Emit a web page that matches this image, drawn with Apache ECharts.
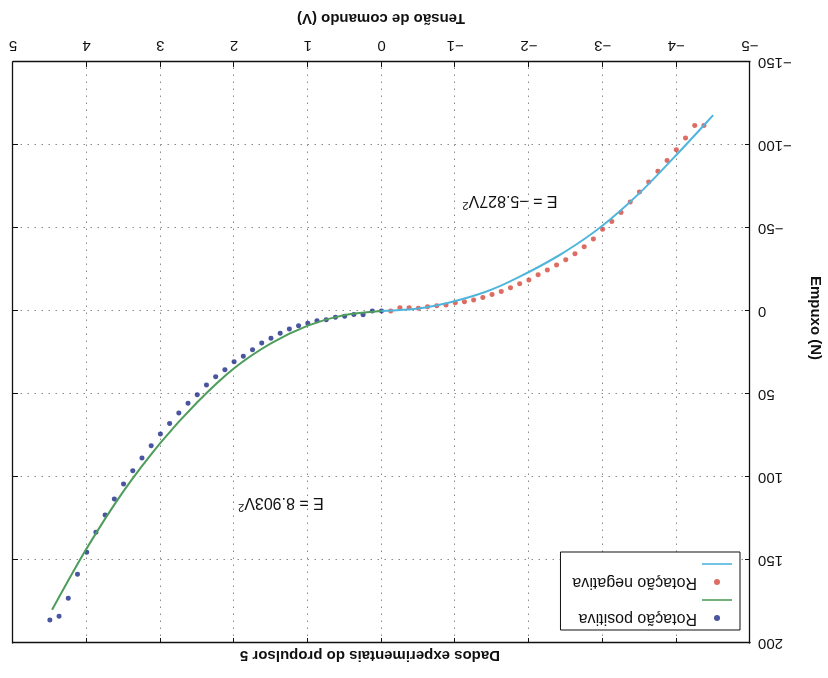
<!DOCTYPE html>
<html lang="pt">
<head>
<meta charset="utf-8">
<title>Dados experimentais do propulsor 5</title>
<script src="https://cdn.jsdelivr.net/npm/echarts@6/dist/echarts.min.js"></script>
<style>
  html, body { margin: 0; background: #fff; }
  /* o original está de cabeça para baixo */
  #main { width: 828px; height: 678px; transform: rotate(180deg); }
</style>
</head>
<body>
<div id="main"></div>
<script>
// rotação positiva (V, N)
const posV = [0, 0.125, 0.25, 0.375, 0.5, 0.625, 0.75, 0.875, 1, 1.125, 1.25, 1.375, 1.5, 1.625, 1.75, 1.875,
  2, 2.125, 2.25, 2.375, 2.5, 2.625, 2.75, 2.875, 3, 3.125, 3.25, 3.375, 3.5, 3.625, 3.75, 3.875,
  4, 4.125, 4.25, 4.375, 4.5];
const posE = [0, 0, 2.2, 2.1, 3.2, 3.8, 5.2, 5.8, 7.4, 8.9, 10.8, 13.4, 16.4, 19.3, 23.3, 27.3,
  30.5, 35.4, 39.6, 44.6, 50.4, 55.6, 61.4, 67.7, 74.1, 81.1, 88.6, 96.2, 104.2, 113.3, 122.9, 133.3,
  145.4, 158.6, 173.1, 183.9, 186.1];

// rotação negativa
const negV = [-0.125, -0.25, -0.375, -0.5, -0.625, -0.75, -0.875, -1, -1.125, -1.25, -1.375, -1.5, -1.625, -1.75,
  -1.875, -2, -2.125, -2.25, -2.375, -2.5, -2.625, -2.75, -2.875, -3, -3.125, -3.25, -3.375, -3.5,
  -3.625, -3.75, -3.875, -4, -4.125, -4.25, -4.375];
const negE = [0, -2.0, -2.0, -1.6, -2.6, -3.2, -3.6, -5.0, -5.6, -6.6, -8.2, -10.0, -11.8, -14.0,
  -16.4, -18.6, -21.8, -24.7, -27.7, -30.8, -34.5, -38.7, -43.3, -49.3, -53.9, -59.4, -65.7, -71.7,
  -77.7, -84.2, -90.6, -97.2, -104.2, -111.7, -111.7];

// curvas ajustadas
const posFitV = [0, 0.5, 1, 1.5, 2, 2.5, 3, 3.5, 4, 4.47];
const posFitE = [0, 2.4, 8.8, 19.5, 34.5, 55, 79.5, 108.5, 143, 180];
const negFitV = [0, -0.5, -1, -1.5, -2, -2.5, -3, -3.5, -4, -4.5];
const negFitE = [0, -1.5, -6, -13, -23.5, -36, -51.5, -71, -94, -118];

const font = '"Liberation Sans", Arial, Helvetica, sans-serif';
const ink = '#111';
const zip = (xs, ys) => xs.map((x, i) => [x, ys[i]]);
const minus = v => String(v).replace('-', '\u2212');
const lineIcon = 'path://M0 0H30V1.6H0Z';

const frame = { show: true, onZero: false, lineStyle: { color: ink, width: 1.3 } };
const ticks = { show: true, inside: true, length: 5, lineStyle: { color: ink, width: 1 } };
const dots = { show: true, lineStyle: { color: '#8a8a8a', width: 1, type: [1.5, 5.5] } };

const chart = echarts.init(document.getElementById('main'));

const option = {
    animation: false,
    backgroundColor: '#fff',
    textStyle: { fontFamily: font },
    grid: { left: 78, right: 13, top: 35, bottom: 62 },
    xAxis: [
        { type: 'value', min: -5, max: 5, interval: 1, position: 'bottom',
          axisLine: frame, axisTick: ticks, splitLine: dots,
          axisLabel: { color: ink, fontSize: 15, margin: 9, formatter: minus } },
        { type: 'value', min: -5, max: 5, interval: 1, position: 'top',
          axisLine: frame, axisTick: ticks, splitLine: { show: false }, axisLabel: { show: false } }
    ],
    yAxis: [
        { type: 'value', min: -150, max: 200, interval: 50, position: 'left',
          axisLine: frame, axisTick: ticks, splitLine: dots,
          axisLabel: { color: ink, fontSize: 15, margin: 8, formatter: minus } },
        { type: 'value', min: -150, max: 200, interval: 50, position: 'right',
          axisLine: frame, axisTick: ticks, splitLine: { show: false }, axisLabel: { show: false } }
    ],
    legend: {
        left: 88, top: 48, orient: 'vertical',
        itemWidth: 30, itemHeight: 6, itemGap: 2,
        padding: [4, 12, 4, 8],
        borderColor: ink, borderWidth: 1, backgroundColor: '#fff',
        textStyle: { fontSize: 16, color: ink },
        data: [
            { name: 'Rotação positiva', icon: 'circle' },
            { name: ' ', icon: lineIcon },
            { name: 'Rotação negativa', icon: 'circle' },
            { name: '  ', icon: lineIcon }
        ]
    },
    series: [
        { name: 'Rotação positiva', type: 'scatter', symbolSize: 5,
          itemStyle: { color: '#1b2a86' }, data: zip(posV, posE) },
        { name: ' ', type: 'line', smooth: 0.3, symbol: 'none',
          lineStyle: { color: '#4f9d5c', width: 2 }, itemStyle: { color: '#4f9d5c' },
          data: zip(posFitV, posFitE) },
        { name: 'Rotação negativa', type: 'scatter', symbolSize: 5,
          itemStyle: { color: '#d4473c' }, data: zip(negV, negE) },
        { name: '  ', type: 'line', smooth: 0.3, symbol: 'none',
          lineStyle: { color: '#4fb5dc', width: 2 }, itemStyle: { color: '#4fb5dc' },
          data: zip(negFitV, negFitE) }
    ],
    graphic: [
        { type: 'text', x: 458, y: 23,
          style: { text: 'Dados experimentais do propulsor 5', fontSize: 15, fontWeight: 'bold',
                   fontFamily: font, fill: ink, align: 'center', verticalAlign: 'middle' } },
        { type: 'text', x: 447, y: 660,
          style: { text: 'Tensão de comando (V)', fontSize: 15, fontWeight: 'bold',
                   fontFamily: font, fill: ink, align: 'center', verticalAlign: 'middle' } },
        { type: 'text', x: 13, y: 360, rotation: Math.PI / 2,
          style: { text: 'Empuxo (N)', fontSize: 15, fontWeight: 'bold',
                   fontFamily: font, fill: ink, align: 'center', verticalAlign: 'middle' } },
        { type: 'text', x: 547, y: 176,
          style: { text: '{m|E = 8.903V}{s|2}', fontFamily: font, fill: ink,
                   align: 'center', verticalAlign: 'middle',
                   rich: { m: { fontSize: 16, lineHeight: 22, fill: ink },
                           s: { fontSize: 11, lineHeight: 12, verticalAlign: 'top', fill: ink } } } },
        { type: 'text', x: 318, y: 478,
          style: { text: '{m|E = \u22125.827V}{s|2}', fontFamily: font, fill: ink,
                   align: 'center', verticalAlign: 'middle',
                   rich: { m: { fontSize: 16, lineHeight: 22, fill: ink },
                           s: { fontSize: 11, lineHeight: 12, verticalAlign: 'top', fill: ink } } } }
    ]
};

chart.setOption(option);
</script>
</body>
</html>
